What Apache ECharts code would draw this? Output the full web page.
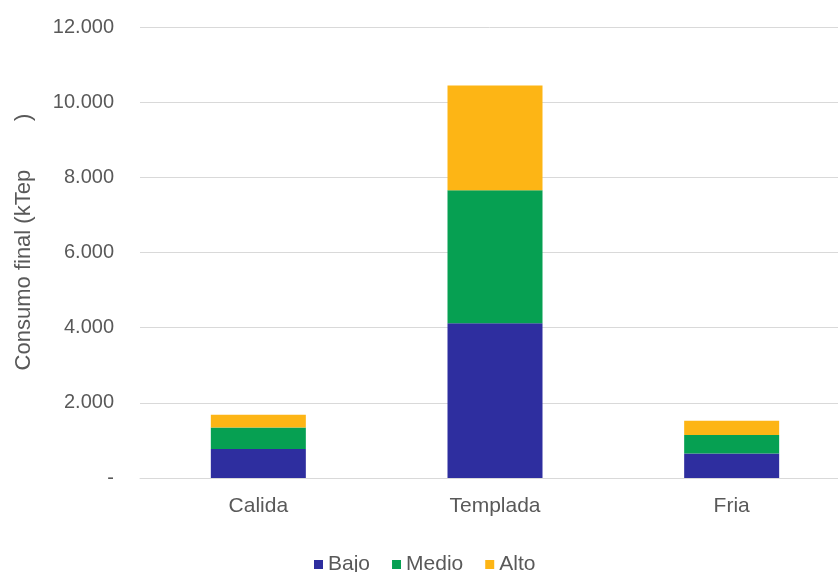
<!DOCTYPE html>
<html>
<head>
<meta charset="utf-8">
<script src="https://cdn.jsdelivr.net/npm/echarts@6/dist/echarts.min.js"></script>
<style>
  html, body { margin: 0; padding: 0; background: #ffffff; }
  #chart { width: 838px; height: 572px; }
</style>
</head>
<body>
<div id="chart"></div>
<script>
// Final energy consumption by climate zone, split by level
const categories = ['Calida', 'Templada', 'Fria'];
const bajo  = [773, 4117, 651];
const medio = [568, 3536, 496];
const alto  = [339, 2792, 373];
const yTicks = [0, 2000, 4000, 6000, 8000, 10000, 12000];

const seriesNames = ['Bajo', 'Medio', 'Alto'];
const seriesColors = ['#2e2e9f', '#06a052', '#fdb515'];
const seriesData = [bajo, medio, alto];
const yTitle = 'Consumo final (kTep        )';

const FONT = 'Liberation Sans, Arial, sans-serif';
const TEXT_COLOR = '#595959';

function fmtThousands(v) {
  if (v === 0) return '-';
  return String(v).replace(/\B(?=(\d{3})+(?!\d))/g, '.');
}

const chart = echarts.init(document.getElementById('chart'), null, { renderer: 'canvas' });

chart.setOption({
  animation: false,
  backgroundColor: '#ffffff',
  textStyle: { fontFamily: FONT },
  grid: { left: 140, top: 27, width: 710, height: 451, containLabel: false, outerBoundsMode: 'none' },
  legend: {
    top: 549,
    left: 309,
    itemWidth: 9,
    itemHeight: 9,
    itemGap: 22,
    icon: 'rect',
    textStyle: { color: TEXT_COLOR, fontSize: 21, fontFamily: FONT },
    data: seriesNames
  },
  graphic: [{
    type: 'text',
    x: 24,
    y: 242,
    rotation: Math.PI / 2,
    style: {
      text: yTitle,
      fill: TEXT_COLOR,
      font: '22px ' + FONT,
      align: 'center',
      verticalAlign: 'middle'
    }
  }],
  xAxis: {
    type: 'category',
    data: categories,
    axisLine: { lineStyle: { color: '#d9d9d9', width: 1 } },
    axisTick: { show: false },
    axisLabel: { color: TEXT_COLOR, fontSize: 21, margin: 18 }
  },
  yAxis: {
    type: 'value',
    min: yTicks[0],
    max: yTicks[yTicks.length - 1],
    interval: yTicks[1] - yTicks[0],
    axisLine: { show: false },
    axisTick: { show: false },
    splitLine: { lineStyle: { color: '#d9d9d9', width: 1 } },
    axisLabel: {
      color: TEXT_COLOR,
      fontSize: 20,
      margin: 26,
      formatter: fmtThousands
    }
  },
  series: seriesNames.map((name, i) => ({
    name: name,
    type: 'bar',
    stack: 'total',
    barWidth: 95,
    data: seriesData[i],
    itemStyle: { color: seriesColors[i] }
  }))
});
</script>
</body>
</html>
